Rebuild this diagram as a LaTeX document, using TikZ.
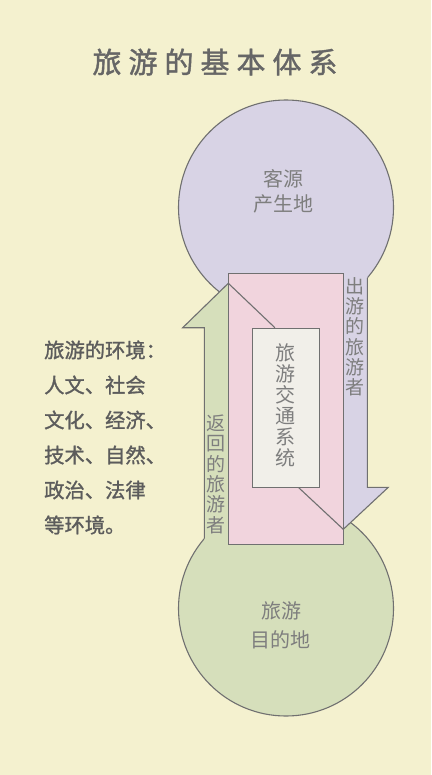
\documentclass[tikz,border=0pt]{standalone}
\usepackage{fontspec}
\setmainfont{Noto Sans CJK SC}
\newfontfamily\medcjk[FakeBold=1.3]{Noto Sans CJK SC}
\definecolor{bg}{HTML}{F4F1CF}
\definecolor{lav}{HTML}{D8D3E5}
\definecolor{pinkc}{HTML}{F1D4DD}
\definecolor{grn}{HTML}{D6DFBB}
\definecolor{boxw}{HTML}{F1EFE9}
\definecolor{edge}{HTML}{707070}
\definecolor{txt}{HTML}{7E7E7E}
\definecolor{dtxt}{HTML}{5C5C5C}
\definecolor{ttxt}{HTML}{666666}
\newcommand{\tchar}[1]{\makebox[36pt]{#1}}
\begin{document}
\begin{tikzpicture}[x=1pt,y=-1pt,
  outl/.style={draw=edge,line width=1.1pt,line join=miter},
  lbl/.style={text=txt,inner sep=0pt,font=\fontsize{20}{20}\selectfont},
  vlbl/.style={text=txt,inner sep=0pt,align=center},
  envline/.style={text=dtxt,inner sep=0pt,anchor=west,font=\fontsize{20.3}{20}\selectfont\medcjk}]
\fill[bg] (0,0) rectangle (431,775);
\useasboundingbox (0,0) rectangle (431,775);
% title
\node[text=ttxt,inner sep=0pt,font=\fontsize{29}{29}\selectfont\medcjk] (title) at (215,62)
  {\tchar{旅}\tchar{游}\tchar{的}\tchar{基}\tchar{本}\tchar{体}\tchar{系}};
% circles
\node[circle,minimum size=215pt,inner sep=0pt,fill=lav,outl] (src) at (286,207.5) {};
\node[circle,minimum size=215pt,inner sep=0pt,fill=grn,outl] (dst) at (286,608.5) {};
% arrow fills
\fill[grn] (204.3,570) -- (204.3,327.7) -- (182.7,327.7) -- (228.3,283.3)
  -- (273.9,327.7) -- (252.3,327.7) -- (252.3,570) -- cycle;
\fill[lav] (319.3,250) -- (319.3,487.3) -- (298.3,487.3) -- (343.3,529.3)
  -- (388.3,487.3) -- (367.3,487.3) -- (367.3,250) -- cycle;
% transport rectangle
\node[rectangle,minimum width=115pt,minimum height=271pt,inner sep=0pt,fill=pinkc,outl,anchor=north west] (trans) at (228.3,272.7) {};
% arrow outlines
\draw[outl] (204.3,538.6) -- (204.3,327.7) -- (182.7,327.7) -- (228.3,283.3) -- (274.9,327.7);
\draw[outl] (367.3,277.8) -- (367.3,487.3) -- (388.3,487.3) -- (343.3,529.3) -- (298.3,487.3);
% inner box
\node[rectangle,minimum width=67.6pt,minimum height=159.6pt,inner sep=0pt,fill=boxw,outl,anchor=north west] (sys) at (251.7,327.7) {};
% labels
\node[lbl] (src1) at (283,179) {客源};
\node[lbl] (src2) at (283,204) {产生地};
\node[lbl] (dst1) at (281,611) {旅游};
\node[lbl] (dst2) at (280,640) {目的地};
\node[vlbl,font=\fontsize{20}{21}\selectfont] (systxt) at (285,405) {旅\\游\\交\\通\\系\\统};
\node[vlbl,font=\fontsize{19}{20.2}\selectfont] (outtxt) at (355.3,336.7) {出\\游\\的\\旅\\游\\者};
\node[vlbl,font=\fontsize{19}{20.4}\selectfont] (rettxt) at (216,474.2) {返\\回\\的\\旅\\游\\者};
% environment text
\node[envline] (e1) at (44,350) {旅游的环境：};
\node[envline] (e2) at (44,385) {人文、社会};
\node[envline] (e3) at (44,420) {文化、经济、};
\node[envline] (e4) at (44,455) {技术、自然、};
\node[envline] (e5) at (44,490) {政治、法律};
\node[envline] (e6) at (44,525) {等环境。};
\end{tikzpicture}
\end{document}
